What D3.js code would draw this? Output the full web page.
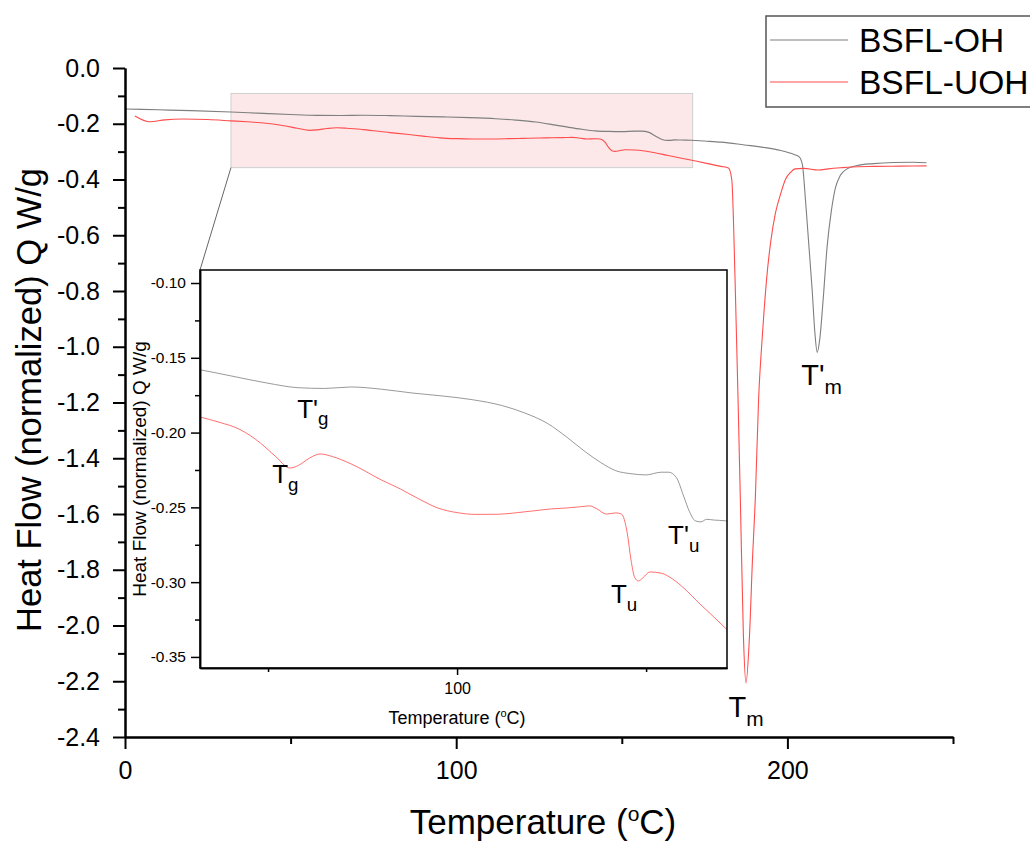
<!DOCTYPE html>
<html>
<head>
<meta charset="utf-8">
<script src="https://cdn.jsdelivr.net/npm/d3@7"></script>
<style>
  body { margin: 0; background: #fff; }
  svg { font-family: "Liberation Sans", Arial, sans-serif; }
</style>
</head>
<body>
<svg id="chart" width="1030" height="843"></svg>
<script>
// Datos (Temperatura °C, flujo de calor W/g)
const ohT = [0, 10, 20, 32, 40, 50, 58, 65, 72, 80, 88, 96, 104, 112, 118, 124, 129, 134, 138, 142, 146, 150, 154, 156, 158, 160, 161.5, 163, 164.5, 166, 168, 171, 175, 180, 187, 193, 198, 202, 203.5, 204.5, 205.5, 206.5, 207.5, 208.3, 209, 209.8, 210.8, 212, 213.3, 214.5, 216, 218, 221, 226, 232, 238, 242];
const ohQ = [-0.147, -0.150, -0.153, -0.158, -0.162, -0.167, -0.170, -0.1705, -0.1695, -0.171, -0.1735, -0.1755, -0.178, -0.182, -0.187, -0.194, -0.203, -0.213, -0.220, -0.2255, -0.2275, -0.2283, -0.2265, -0.2265, -0.230, -0.243, -0.253, -0.259, -0.2597, -0.258, -0.2585, -0.259, -0.262, -0.266, -0.276, -0.285, -0.296, -0.310, -0.318, -0.345, -0.48, -0.64, -0.80, -0.95, -1.02, -0.97, -0.83, -0.64, -0.51, -0.43, -0.385, -0.362, -0.350, -0.343, -0.339, -0.338, -0.340];

const uohT = [3, 7.5, 12, 17.5, 25, 32, 37, 42.6, 48, 52, 55.8, 58, 61, 63.8, 67, 72, 80, 85, 90, 95, 100, 105, 111, 116, 120, 125, 129, 133, 135, 137, 139.5, 142, 143.5, 145, 146, 147, 148, 149.2, 151, 154, 157, 160, 164, 168, 171.5, 176, 180, 182.2, 183.2, 184.2, 185.2, 185.8, 186.7, 187.5, 188.5, 189.5, 190.3, 191.3, 192.5, 193.7, 195, 196.4, 198, 199.4, 201, 202.3, 205, 209.3, 212.3, 216, 219.3, 226, 234, 242];
const uohQ = [-0.172, -0.193, -0.186, -0.183, -0.185, -0.1896, -0.193, -0.198, -0.207, -0.216, -0.2237, -0.222, -0.217, -0.2143, -0.216, -0.221, -0.2317, -0.2377, -0.2445, -0.2505, -0.2535, -0.2547, -0.2546, -0.2535, -0.2524, -0.251, -0.2504, -0.2495, -0.249, -0.251, -0.2545, -0.2537, -0.2545, -0.267, -0.285, -0.297, -0.2992, -0.297, -0.2932, -0.294, -0.2979, -0.304, -0.314, -0.3235, -0.332, -0.343, -0.353, -0.359, -0.40, -0.76, -1.24, -1.55, -2.03, -2.206, -2.05, -1.75, -1.55, -1.19, -0.95, -0.76, -0.62, -0.52, -0.45, -0.40, -0.374, -0.362, -0.360, -0.366, -0.362, -0.358, -0.355, -0.353, -0.352, -0.351];

const seriesNames = ['BSFL-OH', 'BSFL-UOH'];
const seriesColors = ['#7f7f7f', '#ff4c4c'];

const mainXTicks = [0, 100, 200];
const mainXMinor = [50, 150, 250];
const mainYTicks = [0, -0.2, -0.4, -0.6, -0.8, -1.0, -1.2, -1.4, -1.6, -1.8, -2.0, -2.2, -2.4];
const mainYMinor = [-0.1, -0.3, -0.5, -0.7, -0.9, -1.1, -1.3, -1.5, -1.7, -1.9, -2.1, -2.3];
const insetXTicks = [100];
const insetXMinor = [50, 150];
const insetYTicks = [-0.10, -0.15, -0.20, -0.25, -0.30, -0.35];
const insetYMinor = [-0.125, -0.175, -0.225, -0.275, -0.325];

// Etiquetas de transiciones: [texto, prima, subíndice, T, Q]
const mainLabels = [['T', "'", 'm', 204.2, -1.137], ['T', '', 'm', 182.2, -2.328]];
const insetLabels = [['T', "'", 'g', 57.7, -0.190], ['T', '', 'g', 51.1, -0.2337],
                     ['T', "'", 'u', 155.8, -0.2745], ['T', '', 'u', 140.7, -0.3139]];

const svg = d3.select('#chart');
const series = [ohT.map((t, i) => [t, ohQ[i]]), uohT.map((t, i) => [t, uohQ[i]])];

// Escalas principales
const x = d3.scaleLinear().domain([0, 250]).range([125, 953]);
const y = d3.scaleLinear().domain([0, -2.4]).range([68, 737]);
// Escalas del recuadro
const ix = d3.scaleLinear().domain([32, 171.4]).range([200, 727]);
const iy = d3.scaleLinear().domain([-0.0913, -0.3574]).range([270, 668]);

// Región ampliada sombreada
svg.append('rect')
    .attr('x', x(ix.domain()[0])).attr('y', y(iy.domain()[0]))
    .attr('width', x(ix.domain()[1]) - x(ix.domain()[0]))
    .attr('height', y(iy.domain()[1]) - y(iy.domain()[0]))
    .attr('fill', '#fce8e8').attr('stroke', '#cfcfcf').attr('stroke-width', 1);

// Curvas principales
const line = d3.line().x(d => x(d[0])).y(d => y(d[1])).curve(d3.curveMonotoneX);
series.forEach((s, i) => {
    svg.append('path').datum(s).attr('d', line)
        .attr('fill', 'none').attr('stroke', seriesColors[i]).attr('stroke-width', 1.1);
});

// Ejes principales
function styleAxis(g, size, width) {
    g.selectAll('text').attr('font-size', size).attr('fill', '#000');
    g.selectAll('line').attr('stroke', '#000').attr('stroke-width', width);
    g.select('.domain').attr('stroke', '#000').attr('stroke-width', width);
}
const gx = svg.append('g').attr('transform', 'translate(0,737)')
    .call(d3.axisBottom(x).tickValues(mainXTicks).tickFormat(d3.format('d')).tickSize(12).tickSizeOuter(0).tickPadding(12));
styleAxis(gx, 25, 2);
const gxm = svg.append('g').attr('transform', 'translate(0,737)')
    .call(d3.axisBottom(x).tickValues(mainXMinor).tickFormat('').tickSize(7).tickSizeOuter(0));
styleAxis(gxm, 25, 2);
const gy = svg.append('g').attr('transform', 'translate(125,0)')
    .call(d3.axisLeft(y).tickValues(mainYTicks).tickFormat(d3.format('.1f')).tickSize(12).tickSizeOuter(0).tickPadding(13));
styleAxis(gy, 25, 2);
gy.selectAll('text').text(d => d3.format('.1f')(d).replace('−', '-'));
const gym = svg.append('g').attr('transform', 'translate(125,0)')
    .call(d3.axisLeft(y).tickValues(mainYMinor).tickFormat('').tickSize(7).tickSizeOuter(0));
styleAxis(gym, 25, 2);

// Títulos de ejes
svg.append('text').attr('transform', 'translate(41,400) rotate(-90)')
    .attr('text-anchor', 'middle').attr('font-size', 34.5)
    .text('Heat Flow (normalized) Q W/g');
const xt = svg.append('text').attr('x', 543).attr('y', 834)
    .attr('text-anchor', 'middle').attr('font-size', 35);
xt.append('tspan').text('Temperature (');
xt.append('tspan').attr('font-size', 21).attr('dy', -13).text('o');
xt.append('tspan').attr('dy', 13).text('C)');

// Etiquetas con subíndice
function addLabel(g, l, sx, sy, size) {
    const t = g.append('text').attr('x', sx(l[3])).attr('y', sy(l[4])).attr('font-size', size);
    t.append('tspan').text(l[0] + l[1]);
    t.append('tspan').attr('font-size', size * 0.72).attr('dy', size * 0.3).text(l[2]);
}
mainLabels.forEach(l => addLabel(svg, l, x, y, 29));

// Línea conectora hacia el recuadro
svg.append('line')
    .attr('x1', x(ix.domain()[0])).attr('y1', y(iy.domain()[1]))
    .attr('x2', ix.range()[0]).attr('y2', iy.range()[0])
    .attr('stroke', '#666').attr('stroke-width', 1);

// Recuadro ampliado
const inset = svg.append('g');
inset.append('clipPath').attr('id', 'clip-inset').append('rect')
    .attr('x', 200).attr('y', 270).attr('width', 527).attr('height', 398);
inset.append('rect').attr('x', 200).attr('y', 270).attr('width', 527).attr('height', 398)
    .attr('fill', '#fff');
const iline = d3.line().x(d => ix(d[0])).y(d => iy(d[1])).curve(d3.curveMonotoneX);
series.forEach((s, i) => {
    inset.append('path').datum(s).attr('d', iline).attr('clip-path', 'url(#clip-inset)')
        .attr('fill', 'none').attr('stroke', seriesColors[i]).attr('stroke-width', 1)
        .attr('opacity', 0.8);
});
inset.append('rect').attr('x', 200).attr('y', 270).attr('width', 527).attr('height', 398)
    .attr('fill', 'none').attr('stroke', '#000').attr('stroke-width', 1.5);

const igx = inset.append('g').attr('transform', 'translate(0,668)')
    .call(d3.axisBottom(ix).tickValues(insetXTicks).tickFormat(d3.format('d')).tickSize(7).tickSizeOuter(0).tickPadding(8));
styleAxis(igx, 16, 1.5);
const igxm = inset.append('g').attr('transform', 'translate(0,668)')
    .call(d3.axisBottom(ix).tickValues(insetXMinor).tickFormat('').tickSize(4).tickSizeOuter(0));
styleAxis(igxm, 16, 1.5);
const igy = inset.append('g').attr('transform', 'translate(200,0)')
    .call(d3.axisLeft(iy).tickValues(insetYTicks).tickFormat(d3.format('.2f')).tickSize(9).tickSizeOuter(0).tickPadding(5));
styleAxis(igy, 15.5, 1.5);
igy.selectAll('text').text(d => d3.format('.2f')(d).replace('−', '-'));
const igym = inset.append('g').attr('transform', 'translate(200,0)')
    .call(d3.axisLeft(iy).tickValues(insetYMinor).tickFormat('').tickSize(5).tickSizeOuter(0));
styleAxis(igym, 15.5, 1.5);

inset.append('text').attr('transform', 'translate(146,469) rotate(-90)')
    .attr('text-anchor', 'middle').attr('font-size', 19)
    .text('Heat Flow (normalized) Q W/g');
const ixt = inset.append('text').attr('x', 457).attr('y', 724)
    .attr('text-anchor', 'middle').attr('font-size', 18);
ixt.append('tspan').text('Temperature (');
ixt.append('tspan').attr('font-size', 11).attr('dy', -7).text('o');
ixt.append('tspan').attr('dy', 7).text('C)');
insetLabels.forEach(l => addLabel(inset, l, ix, iy, 26));

// Leyenda
const legend = svg.append('g');
legend.append('rect').attr('x', 766).attr('y', 16).attr('width', 300).attr('height', 91)
    .attr('fill', '#fff').attr('stroke', '#555').attr('stroke-width', 1.5);
seriesNames.forEach((name, i) => {
    const ly = 40 + i * 42;
    legend.append('line').attr('x1', 770).attr('x2', 848).attr('y1', ly).attr('y2', ly)
        .attr('stroke', seriesColors[i]).attr('stroke-width', 1.2);
    legend.append('text').attr('x', 859).attr('y', ly + 12).attr('font-size', 33.5).text(name);
});
</script>
</body>
</html>
